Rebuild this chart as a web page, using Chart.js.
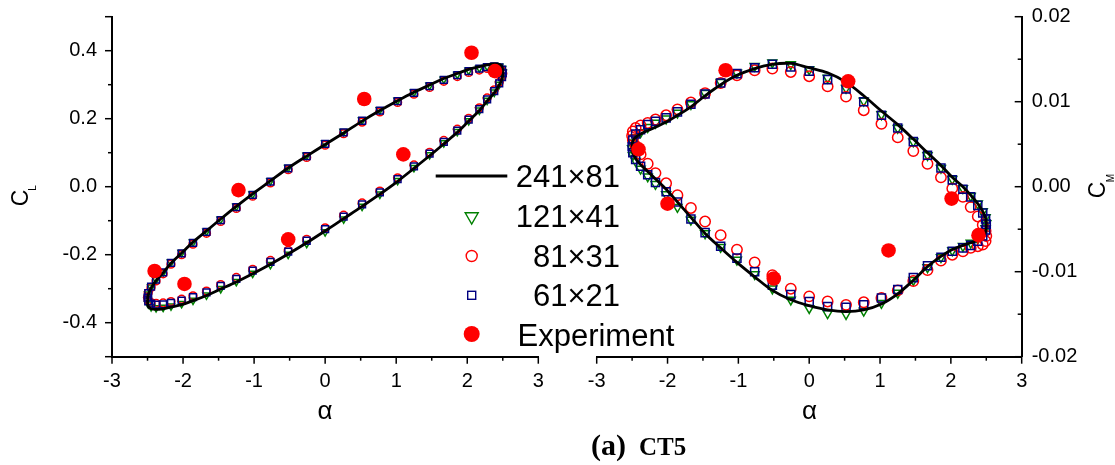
<!DOCTYPE html>
<html><head><meta charset="utf-8">
<script src="https://cdn.jsdelivr.net/npm/chart.js@4.4.1/dist/chart.umd.min.js"></script>
<style>
html,body{margin:0;padding:0;background:#fff;}
#wrap{position:relative;width:1115px;height:465px;overflow:hidden;font-family:"Liberation Sans",Arial,sans-serif;color:#000;background:#fff;}
canvas{position:absolute;top:0;}
.t{position:absolute;white-space:nowrap;line-height:1;}
.rot{transform:translate(-50%,-50%) rotate(-90deg);}
.ctr{transform:translate(-50%,-50%);}
.lg{font-size:31px;transform:translateY(-50%);}
.ttl{font-family:"Liberation Serif","Times New Roman",serif;font-weight:bold;}
</style></head><body>
<div id="wrap">
<canvas id="cl" width="560" height="465" style="left:0"></canvas>
<canvas id="cm" width="575" height="465" style="left:540px"></canvas>

<div class="t rot" style="left:19.5px;top:198.3px;font-size:23px">C</div>
<div class="t rot" style="left:33.3px;top:188px;font-size:10px">L</div>
<div class="t rot" style="left:1097.3px;top:190px;font-size:23px">C</div>
<div class="t rot" style="left:1110.5px;top:178px;font-size:10px">M</div>
<div class="t ctr" style="left:325px;top:409.8px;font-size:26px">α</div>
<div class="t ctr" style="left:809.6px;top:409.8px;font-size:26px">α</div>

<div class="t ttl" style="left:591px;top:430px;font-size:30px">(a)</div>
<div class="t ttl" style="left:639px;top:434px;font-size:25px">CT5</div>

<svg style="position:absolute;left:420px;top:150px" width="120" height="200">
  <line x1="15.7" y1="26" x2="87.3" y2="26" stroke="#000" stroke-width="2.8"/>
  <polygon points="45.2,62.8 58.2,62.8 51.7,74" fill="none" stroke="#008000" stroke-width="1.4"/>
  <circle cx="51.7" cy="106" r="5.5" fill="none" stroke="#ff0000" stroke-width="1.4"/>
  <rect x="47.7" y="141.3" width="8" height="8" fill="none" stroke="#000080" stroke-width="1.4"/>
  <circle cx="51.7" cy="184" r="8" fill="#ff0000"/>
</svg>
<div class="t lg" style="right:495px;top:175.5px">241×81</div>
<div class="t lg" style="right:495px;top:215.8px">121×41</div>
<div class="t lg" style="right:495px;top:255.8px">81×31</div>
<div class="t lg" style="right:495px;top:295.2px">61×21</div>
<div class="t lg" style="left:517.5px;top:335px">Experiment</div>
</div>

<script>
// ---- data ----
const alpha = [0, 0.26, 0.52, 0.77, 1.02, 1.25, 1.47, 1.67, 1.86, 2.02, 2.17, 2.28, 2.38, 2.45, 2.49, 2.5,
  2.49, 2.45, 2.38, 2.28, 2.17, 2.02, 1.86, 1.67, 1.47, 1.25, 1.02, 0.77, 0.52, 0.26, 0,
  -0.26, -0.52, -0.77, -1.02, -1.25, -1.47, -1.67, -1.86, -2.02, -2.17, -2.28, -2.38, -2.45, -2.49, -2.5,
  -2.49, -2.45, -2.38, -2.28, -2.17, -2.02, -1.86, -1.67, -1.47, -1.25, -1.02, -0.77, -0.52, -0.26];

const clGrid241 = [0.124, 0.158, 0.193, 0.224, 0.253, 0.278, 0.299, 0.318, 0.333, 0.345, 0.353, 0.358, 0.361, 0.360, 0.353, 0.336,
  0.318, 0.299, 0.276, 0.252, 0.224, 0.193, 0.160, 0.126, 0.091, 0.054, 0.016, -0.022, -0.058, -0.094, -0.130,
  -0.165, -0.198, -0.228, -0.256, -0.280, -0.301, -0.320, -0.335, -0.347, -0.354, -0.359, -0.361, -0.359, -0.352, -0.336,
  -0.318, -0.298, -0.276, -0.253, -0.225, -0.195, -0.163, -0.130, -0.095, -0.058, -0.021, 0.017, 0.055, 0.090];
const clGrid121 = [0.128, 0.162, 0.196, 0.226, 0.254, 0.278, 0.298, 0.316, 0.330, 0.342, 0.349, 0.354, 0.356, 0.354, 0.347, 0.336,
  0.320, 0.301, 0.278, 0.254, 0.225, 0.194, 0.162, 0.129, 0.094, 0.056, 0.018, -0.022, -0.058, -0.095, -0.133,
  -0.167, -0.199, -0.229, -0.255, -0.279, -0.300, -0.319, -0.334, -0.344, -0.351, -0.355, -0.356, -0.353, -0.345, -0.333,
  -0.316, -0.295, -0.273, -0.251, -0.222, -0.194, -0.163, -0.131, -0.096, -0.058, -0.022, 0.017, 0.056, 0.092];
const clGrid81 = [0.122, 0.156, 0.190, 0.220, 0.248, 0.272, 0.292, 0.310, 0.324, 0.336, 0.343, 0.348, 0.350, 0.348, 0.342, 0.333,
  0.324, 0.307, 0.285, 0.261, 0.232, 0.201, 0.169, 0.136, 0.101, 0.064, 0.026, -0.013, -0.048, -0.084, -0.121,
  -0.155, -0.187, -0.217, -0.243, -0.267, -0.288, -0.307, -0.321, -0.331, -0.338, -0.342, -0.343, -0.341, -0.335, -0.325,
  -0.312, -0.296, -0.277, -0.256, -0.228, -0.200, -0.169, -0.137, -0.102, -0.064, -0.028, 0.011, 0.050, 0.086];
const clGrid61 = [0.126, 0.160, 0.194, 0.224, 0.252, 0.276, 0.296, 0.314, 0.328, 0.340, 0.347, 0.352, 0.354, 0.351, 0.344, 0.334,
  0.322, 0.304, 0.281, 0.257, 0.228, 0.197, 0.165, 0.132, 0.097, 0.060, 0.022, -0.017, -0.052, -0.088, -0.125,
  -0.159, -0.191, -0.221, -0.247, -0.271, -0.292, -0.311, -0.325, -0.335, -0.342, -0.346, -0.347, -0.344, -0.337, -0.326,
  -0.313, -0.294, -0.273, -0.252, -0.224, -0.196, -0.165, -0.133, -0.098, -0.060, -0.024, 0.015, 0.054, 0.090];

const cmGrid241 = [0.0140, 0.0134, 0.0123, 0.0107, 0.0089, 0.0073, 0.0056, 0.0040, 0.0025, 0.0011, 0.0000, -0.0010, -0.0020, -0.0029, -0.0037, -0.0045,
  -0.0053, -0.0059, -0.0063, -0.0066, -0.0069, -0.0074, -0.0082, -0.0094, -0.0110, -0.0126, -0.0138, -0.0145, -0.0147, -0.0145, -0.0140,
  -0.0133, -0.0122, -0.0106, -0.0089, -0.0072, -0.0055, -0.0036, -0.0018, -0.0003, 0.0009, 0.0018, 0.0026, 0.0033, 0.0040, 0.0047,
  0.0054, 0.0058, 0.0062, 0.0066, 0.0070, 0.0076, 0.0084, 0.0094, 0.0107, 0.0120, 0.0131, 0.0139, 0.0144, 0.0145];
const cmGrid121 = [0.0138, 0.0128, 0.0116, 0.0101, 0.0085, 0.0069, 0.0053, 0.0037, 0.0022, 0.0009, -0.0002, -0.0011, -0.0020, -0.0029, -0.0036, -0.0043,
  -0.0049, -0.0055, -0.0061, -0.0066, -0.0070, -0.0075, -0.0083, -0.0095, -0.0110, -0.0125, -0.0137, -0.0146, -0.0150, -0.0149, -0.0143,
  -0.0133, -0.0120, -0.0103, -0.0086, -0.0071, -0.0055, -0.0039, -0.0024, -0.0009, 0.0003, 0.0012, 0.0021, 0.0030, 0.0037, 0.0045,
  0.0052, 0.0058, 0.0064, 0.0070, 0.0075, 0.0080, 0.0087, 0.0097, 0.0110, 0.0123, 0.0134, 0.0142, 0.0146, 0.0144];
const cmGrid81 = [0.0130, 0.0118, 0.0106, 0.0090, 0.0074, 0.0058, 0.0042, 0.0027, 0.0011, -0.0002, -0.0012, -0.0024, -0.0035, -0.0045, -0.0052, -0.0058,
  -0.0064, -0.0068, -0.0070, -0.0072, -0.0076, -0.0080, -0.0087, -0.0098, -0.0111, -0.0122, -0.0131, -0.0136, -0.0139, -0.0135, -0.0129,
  -0.0120, -0.0104, -0.0089, -0.0074, -0.0057, -0.0041, -0.0025, -0.0010, 0.0004, 0.0016, 0.0027, 0.0038, 0.0048, 0.0055, 0.0060,
  0.0065, 0.0069, 0.0072, 0.0075, 0.0079, 0.0084, 0.0091, 0.0099, 0.0110, 0.0122, 0.0131, 0.0137, 0.0139, 0.0135];
const cmGrid61 = [0.0136, 0.0126, 0.0115, 0.0100, 0.0084, 0.0069, 0.0053, 0.0037, 0.0022, 0.0008, -0.0003, -0.0012, -0.0022, -0.0031, -0.0038, -0.0044,
  -0.0051, -0.0058, -0.0064, -0.0069, -0.0072, -0.0076, -0.0083, -0.0093, -0.0107, -0.0121, -0.0131, -0.0139, -0.0142, -0.0141, -0.0135,
  -0.0127, -0.0116, -0.0100, -0.0084, -0.0070, -0.0054, -0.0038, -0.0018, -0.0006, 0.0005, 0.0014, 0.0024, 0.0032, 0.0040, 0.0047,
  0.0055, 0.0062, 0.0067, 0.0073, 0.0077, 0.0081, 0.0088, 0.0097, 0.0109, 0.0122, 0.0133, 0.0140, 0.0144, 0.0141];

const expAlphaCL = [2.06, 2.39, 0.55, 1.10, -1.22, -0.52, -2.40, -1.98];
const expCL = [0.394, 0.340, 0.258, 0.095, -0.010, -0.155, -0.248, -0.286];
const expAlphaCM = [-1.18, 0.55, -2.41, 2.01, -2.00, -0.50, 1.12, 2.39];
const expCM = [0.0137, 0.0124, 0.0044, -0.0014, -0.0020, -0.0108, -0.0075, -0.0057];

const alphaTickLabels = ['-3', '-2', '-1', '0', '1', '2', '3'];
const clTickLabels = ['-0.4', '-0.2', '0.0', '0.2', '0.4'];
const cmTickLabels = ['-0.02', '-0.01', '0.00', '0.01', '0.02'];

// ---- helpers ----
const pts = (xs, ys) => xs.map((x, i) => ({x: x, y: ys[i]}));
const closedLoop = (xs, ys) => { const p = pts(xs, ys); p.push(p[0]); return p; };
const pickLabel = (list, v, tol) => { const f = list.find(s => Math.abs(parseFloat(s) - v) < tol); return f === undefined ? '' : f; };

Chart.defaults.font.family = '"Liberation Sans", Arial, sans-serif';
Chart.defaults.font.size = 20;
Chart.defaults.color = '#000';

const tickMarks = {
  id: 'tickMarks',
  afterDraw(chart) {
    const ctx = chart.ctx, a = chart.chartArea;
    ctx.save();
    ctx.strokeStyle = '#000';
    ctx.lineWidth = 1.5;
    Object.values(chart.scales).forEach(s => {
      s.ticks.forEach((t, i) => {
        const p = s.getPixelForValue(t.value);
        const end = (i === 0 || i === s.ticks.length - 1);
        const len = (t.label !== '' || end) ? 7 : 4;
        ctx.beginPath();
        if (s.position === 'bottom') { ctx.moveTo(p, a.bottom); ctx.lineTo(p, a.bottom + len); }
        else if (s.position === 'left') { ctx.moveTo(a.left, p); ctx.lineTo(a.left - len, p); }
        else { ctx.moveTo(a.right, p); ctx.lineTo(a.right - len, p); }
        ctx.stroke();
      });
    });
    ctx.restore();
  }
};

function panel(canvasId, yVals, expX, expY, yOpts, sizes, padding) {
  const datasets = [
    {label: 'Experiment', data: pts(expX, expY), pointStyle: 'circle', pointRadius: 7.3,
     backgroundColor: '#ff0000', borderColor: '#ff0000', borderWidth: 0, showLine: false},
    {label: '241×81', data: closedLoop(alpha, yVals[0]), showLine: true, pointRadius: 0,
     borderColor: '#000', borderWidth: 2.8, tension: 0.35, fill: false},
    {label: '61×21', data: pts(alpha, yVals[3]), pointStyle: 'rect', pointRadius: sizes.rect,
     backgroundColor: 'rgba(0,0,0,0)', borderColor: '#000080', borderWidth: 1.5, showLine: false},
    {label: '81×31', data: pts(alpha, yVals[2]), pointStyle: 'circle', pointRadius: sizes.circle,
     backgroundColor: 'rgba(0,0,0,0)', borderColor: '#ff0000', borderWidth: 1.5, showLine: false},
    {label: '121×41', data: pts(alpha, yVals[1]), pointStyle: 'triangle', rotation: 180, pointRadius: sizes.tri,
     backgroundColor: 'rgba(0,0,0,0)', borderColor: '#008000', borderWidth: 1.5, showLine: false}
  ];
  return new Chart(document.getElementById(canvasId), {
    type: 'scatter',
    data: {datasets: datasets},
    plugins: [tickMarks],
    options: {
      responsive: false, animation: false, devicePixelRatio: 1,
      layout: {padding: padding},
      plugins: {legend: {display: false}, tooltip: {enabled: false}},
      elements: {point: {hoverRadius: 0}},
      scales: {
        x: {
          type: 'linear', position: 'bottom', min: -3, max: 3,
          afterFit: s => { s.height = 108.3; s.paddingLeft = 0; s.paddingRight = 0; },
          grid: {display: false, drawTicks: false},
          border: {display: true, color: '#000', width: 2},
          ticks: {stepSize: 0.5, autoSkip: false, maxRotation: 0, padding: 13,
                  callback: v => pickLabel(alphaTickLabels, v, 0.01)}
        },
        y: Object.assign({type: 'linear', grid: {display: false, drawTicks: false},
          border: {display: true, color: '#000', width: 2}}, yOpts)
      }
    }
  });
}

panel('cl', [clGrid241, clGrid121, clGrid81, clGrid61], expAlphaCL, expCL, {
  position: 'left', min: -0.5, max: 0.5,
  afterFit: s => { s.width = 112; s.paddingTop = 0; s.paddingBottom = 0; },
  ticks: {stepSize: 0.1, autoSkip: false, padding: 15, callback: v => pickLabel(clTickLabels, v, 0.01)}
}, {rect: 4.8, circle: 3.9, tri: 4.2}, {left: 0, top: 16.7, right: 21.7, bottom: 0});

panel('cm', [cmGrid241, cmGrid121, cmGrid81, cmGrid61], expAlphaCM, expCM, {
  position: 'right', min: -0.02, max: 0.02,
  afterFit: s => { s.width = 93.3; s.paddingTop = 0; s.paddingBottom = 0; },
  ticks: {stepSize: 0.005, autoSkip: false, padding: 10, callback: v => pickLabel(cmTickLabels, v, 0.001)}
}, {rect: 5.7, circle: 5.2, tri: 5.2}, {left: 56.7, top: 16.7, right: 0, bottom: 0});
</script>
</body></html>
